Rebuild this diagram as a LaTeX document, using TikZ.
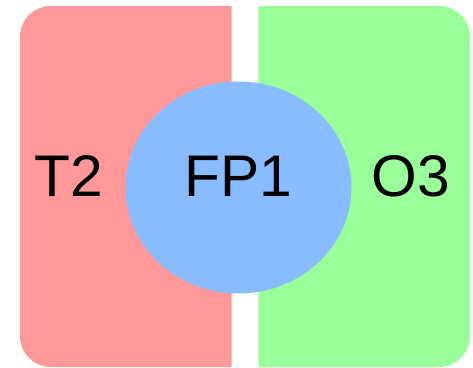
\documentclass[tikz,border=0pt]{standalone}
\usepackage{fontspec}
\setmainfont{Liberation Sans}
\usetikzlibrary{shapes.geometric}
\definecolor{redfill}{RGB}{255,153,153}
\definecolor{greenfill}{RGB}{153,255,153}
\definecolor{bluefill}{RGB}{136,187,255}
\tikzset{
  lbl/.style={inner sep=0pt, anchor=base, font=\fontsize{58.7}{70}\selectfont},
  blob/.style={ellipse, fill=bluefill, draw=none, inner sep=0pt,
    minimum width=226pt, minimum height=212pt,
    font=\fontsize{58.7}{70}\selectfont, text height=18pt, text depth=0pt}
}
\begin{document}
\begin{tikzpicture}[x=1pt,y=-1pt]
\useasboundingbox (0,0) rectangle (473,367);
\fill[redfill] (231.7,367) -- (231.7,6) {[rounded corners=31pt] -- (20,6) -- (20,367)} -- cycle;
\fill[greenfill] (258.3,367) -- (258.3,6) {[rounded corners=31pt] -- (470,6) -- (470,367)} -- cycle;
\node[blob] (fp1) at (238.5,187.5) {FP1};
\node[lbl] (t2) at (68.5,196.5) {T2};
\node[lbl] (o3) at (411,196.5) {O3};
\end{tikzpicture}
\end{document}
